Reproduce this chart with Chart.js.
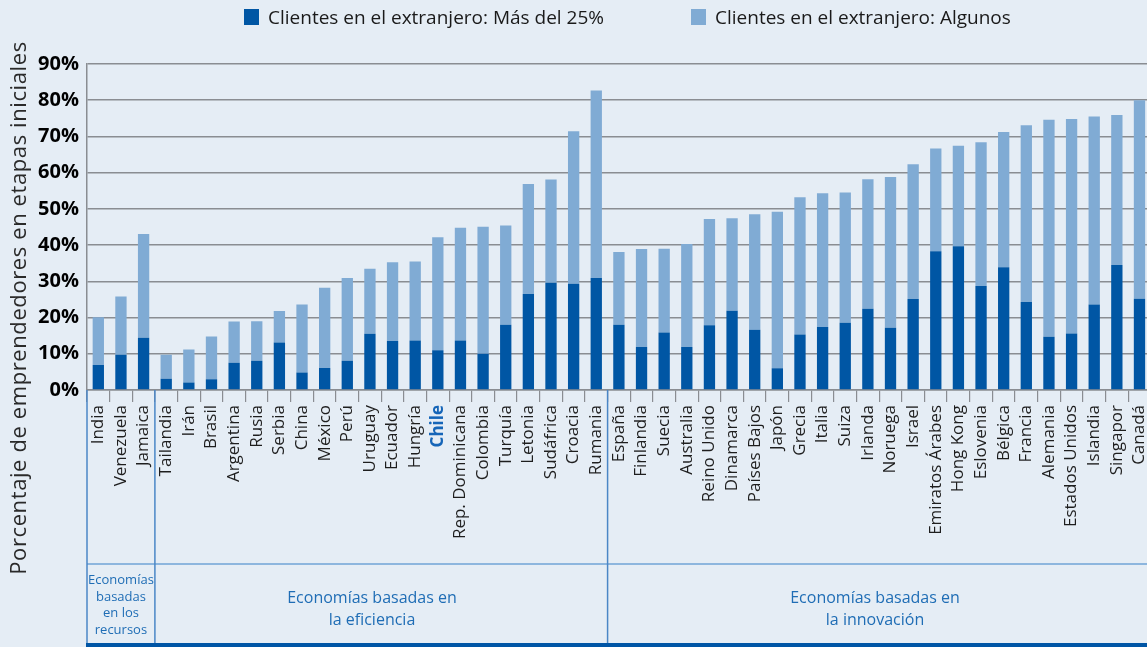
<!DOCTYPE html>
<html>
<head>
<meta charset="utf-8">
<script src="https://cdn.jsdelivr.net/npm/chart.js@4.4.1/dist/chart.umd.min.js"></script>
<style>
  html, body { margin:0; padding:0; width:1147px; height:647px; overflow:hidden; background:#e5edf5; }
  #wrap { position:absolute; left:0; top:0; width:1163px; height:647px; }
  .leg { position:absolute; top:5px; font-family:"Open Sans", sans-serif; font-size:19px; color:#1a1a1a; white-space:nowrap; line-height:24px; }
  .leg i { position:absolute; left:0; top:4px; width:15px; height:16px; }
  .leg span { position:absolute; left:24px; top:0; }
</style>
</head>
<body>
<div id="wrap"><canvas id="c" width="1163" height="647"></canvas></div>
<div class="leg" style="left:244px"><i style="background:#0056a4"></i><span>Clientes en el extranjero: Más del 25%</span></div>
<div class="leg" style="left:691px"><i style="background:#80abd4"></i><span>Clientes en el extranjero: Algunos</span></div>
<script>
const categories = ["India","Venezuela","Jamaica","Tailandia","Irán","Brasil","Argentina","Rusia","Serbia","China","México","Perú","Uruguay","Ecuador","Hungría","Chile","Rep. Dominicana","Colombia","Turquía","Letonia","Sudáfrica","Croacia","Rumania","España","Finlandia","Suecia","Australia","Reino Unido","Dinamarca","Países Bajos","Japón","Grecia","Italia","Suiza","Irlanda","Noruega","Israel","Emiratos Árabes","Hong Kong","Eslovenia","Bélgica","Francia","Alemania","Estados Unidos","Islandia","Singapor","Canadá"];
const masDel25 = [6.9,9.7,14.4,3.1,2.1,3.0,7.5,8.1,13.1,4.8,6.1,8.1,15.5,13.5,13.7,11.0,13.7,10.0,18.0,26.5,29.6,29.3,30.9,18.0,11.9,15.9,11.9,17.9,21.9,16.6,6.0,15.3,17.4,18.6,22.4,17.2,25.1,38.3,39.7,28.7,33.9,24.3,14.7,15.6,23.6,34.5,25.2];
const algunos = [13.2,16.1,28.7,6.6,9.1,11.8,11.4,10.9,8.7,18.8,22.1,22.8,18.0,21.8,21.8,31.2,31.1,35.1,27.4,30.4,28.5,42.1,51.8,20.1,27.0,23.1,28.4,29.3,25.5,31.9,43.2,37.9,36.9,35.9,35.8,41.6,37.2,28.4,27.7,39.7,37.3,48.8,59.9,59.2,51.9,41.4,54.8];
const yTicks = [0,10,20,30,40,50,60,70,80,90];
const groups = [
  {from:0, to:2, lines:["Economías","basadas","en los","recursos"], font:"13px 'Open Sans'", ys:[580,597,613,630]},
  {from:3, to:22, lines:["Economías basadas en","la eficiencia"], font:"16px 'Open Sans'", ys:[598,620], cx:372},
  {from:23, to:46, lines:["Economías basadas en","la innovación"], font:"16px 'Open Sans'", ys:[598,620], cx:875}
];
const yTitle = "Porcentaje de emprendedores en etapas iniciales";
const highlight = "Chile";

const GRID = '#8a8d92';
const SEP = '#4a86c6';

const decor = {
  id:'decor',
  afterDraw(chart){
    const ctx = chart.ctx, x = chart.scales.x, area = chart.chartArea;
    const half = (x.getPixelForValue(1) - x.getPixelForValue(0)) / 2;
    ctx.save();
    ctx.strokeStyle = '#6fa3d6'; ctx.lineWidth = 1.5;
    ctx.beginPath(); ctx.moveTo(area.left, 564); ctx.lineTo(chart.width, 564); ctx.stroke();
    ctx.strokeStyle = SEP; ctx.lineWidth = 1.5;
    groups.forEach(g => {
      const gx = x.getPixelForValue(g.from) - half;
      ctx.beginPath(); ctx.moveTo(gx, area.bottom); ctx.lineTo(gx, 643); ctx.stroke();
    });
    ctx.fillStyle = '#0055a5';
    ctx.fillRect(area.left - 1, 643, chart.width, 5);
    ctx.fillStyle = '#1f6db5'; ctx.textAlign = 'center'; ctx.textBaseline = 'middle';
    groups.forEach(g => {
      const cx = g.cx !== undefined ? g.cx : (x.getPixelForValue(g.from) - half + x.getPixelForValue(g.to) + half) / 2;
      ctx.font = g.font;
      g.lines.forEach((t, i) => ctx.fillText(t, cx, g.ys[i]));
    });
    ctx.translate(20, 308); ctx.rotate(-Math.PI/2);
    ctx.fillStyle = '#2a2a2a'; ctx.font = "22px 'Open Sans'";
    ctx.letterSpacing = '0.6px';
    ctx.fillText(yTitle, 0, 0);
    ctx.restore();
  }
};

new Chart(document.getElementById('c'), {
  type:'bar',
  data:{
    labels: categories,
    datasets:[
      {label:'Clientes en el extranjero: Más del 25%', data: masDel25, backgroundColor:'#0056a4', barPercentage:0.5, categoryPercentage:1.0},
      {label:'Clientes en el extranjero: Algunos', data: algunos, backgroundColor:'#80abd4', barPercentage:0.5, categoryPercentage:1.0}
    ]
  },
  options:{
    responsive:false, animation:false,
    layout:{ padding:{ top:64, right:11, left:0, bottom:0 } },
    plugins:{ legend:{display:false}, tooltip:{enabled:false} },
    scales:{
      x:{
        stacked:true,
        grid:{ drawOnChartArea:false, offset:true, tickLength:12, color:GRID, lineWidth:1.2 },
        border:{ color:GRID, width:1.5 },
        ticks:{
          autoSkip:false, maxRotation:90, minRotation:90, padding:3,
          color: c => categories[c.index] === highlight ? '#1565b8' : '#1e1e1e',
          font: c => ({ family:"'Open Sans'", size:17, weight: categories[c.index] === highlight ? 'bold' : 'normal' })
        },
        afterFit(s){ s.height = 257; }
      },
      y:{
        stacked:true, min:0, max:90,
        afterBuildTicks(s){ s.ticks = yTicks.map(v => ({value:v})); },
        ticks:{ callback: v => v + '%', color:'#000', padding:8, font:{ family:"'Open Sans'", size:20, weight:'bold' } },
        grid:{ color:GRID, lineWidth:1.5, drawTicks:false },
        border:{ color:GRID, width:1.5 },
        afterFit(s){ s.width = 87; }
      }
    }
  },
  plugins:[decor]
});
</script>
</body>
</html>
